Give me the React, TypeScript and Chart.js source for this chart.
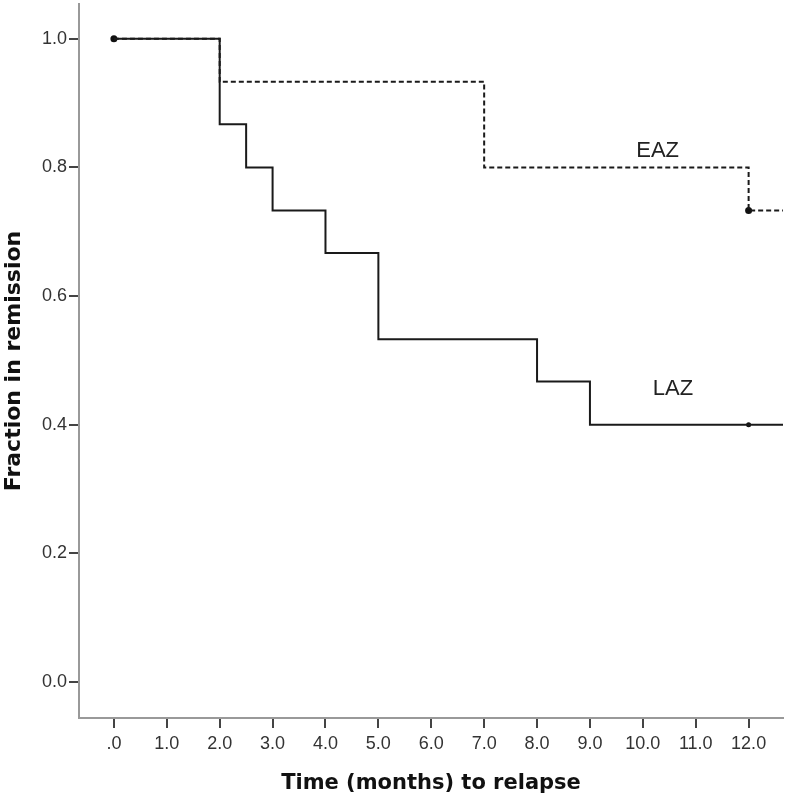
import React, { useEffect, useRef } from "react";
import { Chart, registerables } from "chart.js";

Chart.register(...registerables);

// ---- data ----
const lazTimes = [0, 2, 2.5, 3, 4, 5, 8, 9, 12.65];
const lazSurvival = [1.0, 0.867, 0.8, 0.733, 0.667, 0.533, 0.467, 0.4, 0.4];
const eazTimes = [0, 2, 7, 12, 12.65];
const eazSurvival = [1.0, 0.933, 0.8, 0.733, 0.733];

const lazCensorTimes = [12];
const lazCensorValues = [0.4];
const eazCensorTimes = [0, 12];
const eazCensorValues = [1.0, 0.733];

const xTickValues = [0, 1, 2, 3, 4, 5, 6, 7, 8, 9, 10, 11, 12];
const xTickLabels = [".0", "1.0", "2.0", "3.0", "4.0", "5.0", "6.0", "7.0", "8.0", "9.0", "10.0", "11.0", "12.0"];
const yTickValues = [0, 0.2, 0.4, 0.6, 0.8, 1.0];
const yTickLabels = ["0.0", "0.2", "0.4", "0.6", "0.8", "1.0"];

const curveLabelTexts = ["EAZ", "LAZ"];
const curveLabelX = [10.28, 10.57];
const curveLabelY = [0.825, 0.456];

const xTitle = "Time (months) to relapse";
const yTitle = "Fraction in remission";

const toPts = (xs: number[], ys: number[]) => xs.map((x, i) => ({ x, y: ys[i] }));

const labelPlugin = {
  id: "curveLabels",
  afterDatasetsDraw(chart: any) {
    const { ctx, scales } = chart;
    ctx.save();
    ctx.font = "22px 'Liberation Sans', Arial, sans-serif";
    ctx.fillStyle = "#222";
    ctx.textAlign = "center";
    ctx.textBaseline = "middle";
    curveLabelTexts.forEach((t, i) => {
      ctx.fillText(t, scales.x.getPixelForValue(curveLabelX[i]), scales.y.getPixelForValue(curveLabelY[i]));
    });
    ctx.restore();
  },
};

export default function App() {
  const ref = useRef<HTMLCanvasElement | null>(null);
  useEffect(() => {
    document.body.style.margin = "0";
    const canvas = ref.current!;
    const tickFont = { family: "'Liberation Sans', Arial, sans-serif", size: 18 };
    const xTitleFont = { family: "'DejaVu Sans', sans-serif", size: 21, weight: "bold" as const };
    const yTitleFont = { family: "'DejaVu Sans', sans-serif", size: 22, weight: "bold" as const };
    const chart = new Chart(canvas, {
      type: "line",
      data: {
        datasets: [
          {
            label: "LAZ",
            data: toPts(lazTimes, lazSurvival),
            stepped: "before",
            borderColor: "#1a1a1a",
            borderWidth: 2,
            pointRadius: 0,
            fill: false,
          },
          {
            label: "EAZ",
            data: toPts(eazTimes, eazSurvival),
            stepped: "before",
            borderColor: "#1a1a1a",
            borderWidth: 2,
            borderDash: [5, 3],
            pointRadius: 0,
            fill: false,
          },
          {
            label: "LAZ censored",
            type: "scatter",
            data: toPts(lazCensorTimes, lazCensorValues),
            pointRadius: 2.5,
            pointBackgroundColor: "#111",
            pointBorderWidth: 0,
            showLine: false,
          } as any,
          {
            label: "EAZ censored",
            type: "scatter",
            data: toPts(eazCensorTimes, eazCensorValues),
            pointRadius: 3.5,
            pointBackgroundColor: "#111",
            pointBorderWidth: 0,
            showLine: false,
          } as any,
        ],
      },
      options: {
        responsive: false,
        animation: false,
        devicePixelRatio: 1,
        layout: { padding: { top: 2, right: 4, left: 0, bottom: 0 } },
        plugins: { legend: { display: false }, tooltip: { enabled: false } },
        scales: {
          x: {
            type: "linear",
            min: -0.66,
            max: 12.65,
            afterBuildTicks: (s: any) => {
              s.ticks = xTickValues.map((v) => ({ value: v }));
            },
            afterFit: (s: any) => {
              s.height = 81;
              s.paddingLeft = 0;
              s.paddingRight = 0;
            },
            ticks: {
              font: tickFont,
              color: "#333",
              padding: 5,
              maxRotation: 0,
              autoSkip: false,
              callback: (v: any) => {
                const i = xTickValues.indexOf(Number(v));
                return i >= 0 ? xTickLabels[i] : "";
              },
            },
            grid: { drawOnChartArea: false, drawTicks: true, tickLength: 10, color: "#444", lineWidth: 2 },
            border: { color: "#999", width: 2 },
            title: { display: true, text: xTitle, font: xTitleFont, color: "#111", padding: { top: 0, bottom: 3 } },
          },
          y: {
            type: "linear",
            min: -0.056,
            max: 1.054,
            afterBuildTicks: (s: any) => {
              s.ticks = yTickValues.map((v) => ({ value: v }));
            },
            afterFit: (s: any) => {
              s.width = 79;
              s.paddingTop = 0;
              s.paddingBottom = 0;
            },
            ticks: {
              font: tickFont,
              color: "#333",
              padding: 2,
              callback: (v: any) => {
                const i = yTickValues.findIndex((t) => Math.abs(t - Number(v)) < 1e-9);
                return i >= 0 ? yTickLabels[i] : "";
              },
            },
            grid: { drawOnChartArea: false, drawTicks: true, tickLength: 10, color: "#444", lineWidth: 2 },
            border: { color: "#999", width: 2 },
            title: { display: true, text: yTitle, font: yTitleFont, color: "#111", padding: { top: 1, bottom: 0 } },
          },
        },
      },
      plugins: [labelPlugin],
    });
    return () => chart.destroy();
  }, []);
  return (
    <div style={{ width: 787, height: 799 }}>
      <canvas ref={ref} width={787} height={799} style={{ display: "block" }} />
    </div>
  );
}
